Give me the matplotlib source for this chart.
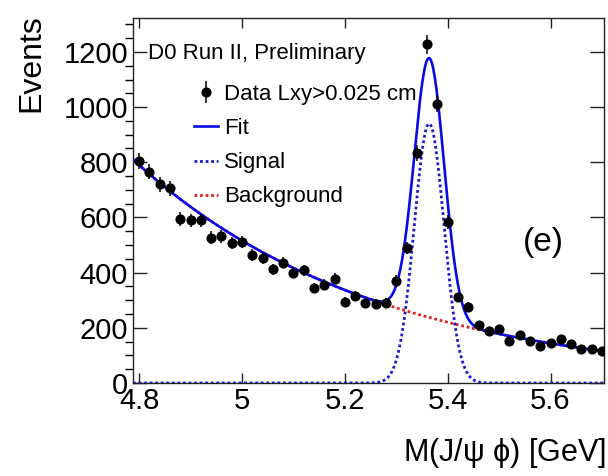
import numpy as np
import matplotlib
matplotlib.use("Agg")
import matplotlib.pyplot as plt

plt.rcParams['font.family'] = ['Liberation Sans', 'DejaVu Sans']

# binned J/psi phi invariant mass, 20 MeV bins
mass = np.round(np.arange(4.80, 5.705, 0.02), 2)
events = [805, 766, 720, 705, 594, 590, 590, 527, 532, 508,
          511, 464, 454, 412, 436, 400, 409, 345, 357, 378,
          295, 315, 289, 288, 291, 371, 490, 834, 1227, 1013,
          584, 310, 276, 209, 189, 194, 152, 174, 152, 134,
          146, 158, 143, 123, 123, 117]

# fit result: gaussian signal over exponential background
sig_amp, sig_mean, sig_sigma = 940.0, 5.364, 0.029
bkg_norm, bkg_slope, bkg_ref = 790.0, 2.13, 4.80

x_lo, x_hi = 4.788, 5.704
y_hi = 1323

events = np.array(events, dtype=float)
xs = np.linspace(x_lo, x_hi, 600)
signal = sig_amp * np.exp(-0.5 * ((xs - sig_mean) / sig_sigma) ** 2)
background = bkg_norm * np.exp(-bkg_slope * (xs - bkg_ref))
fit = signal + background

fig = plt.figure(figsize=(6.08, 4.76), dpi=100)
ax = fig.add_axes([133 / 608, 1 - 383 / 476, 471 / 608, 365 / 476])

bkg_line, = ax.plot(xs, background, color='#e02020', lw=2.0,
                    linestyle=(0, (1, 1)), zorder=2)
sig_line, = ax.plot(xs, signal, color='#1a1acc', lw=2.0,
                    linestyle=(0, (1, 1)), zorder=3)
fit_line, = ax.plot(xs, fit, color='#0a0ae6', lw=1.9, zorder=4)
data = ax.errorbar(mass, events, yerr=np.sqrt(events), fmt='o', color='black',
                   ms=6.3, elinewidth=1.1, capsize=0, zorder=5)

ax.set_xlim(x_lo, x_hi)
ax.set_ylim(0, y_hi)
ax.set_xticks([4.8, 5.0, 5.2, 5.4, 5.6])
ax.set_xticklabels(['4.8', '5', '5.2', '5.4', '5.6'])
ax.set_yticks(np.arange(0, 1201, 200))
ax.set_yticks(np.arange(0, 1301, 50), minor=True)
ax.tick_params(direction='in', top=True, right=True, labelsize=21,
               width=1.0, color='#222222')
ax.tick_params(axis='x', which='major', length=7.5, pad=3)
ax.tick_params(axis='y', which='major', length=10, pad=3.5)
ax.tick_params(axis='y', which='minor', length=5.5, width=1.0)
for s in ax.spines.values():
    s.set_linewidth(1.0)
    s.set_color('#222222')

ax.set_ylabel('Events', fontsize=23, loc='top')
ax.yaxis.set_label_coords(-0.184, 1.01)
ax.set_xlabel(r'M(J/$\mathregular{\psi}$ $\mathregular{\phi}$) [GeV]',
              fontsize=22, loc='right')
ax.xaxis.set_label_coords(1.005, -0.145)

ax.text(0.032, 0.904, 'D0 Run II, Preliminary', transform=ax.transAxes,
        fontsize=16, va='center', ha='left')
ax.text(0.872, 0.384, '(e)', transform=ax.transAxes, fontsize=24,
        va='center', ha='center')

ax.legend([data, fit_line, sig_line, bkg_line],
          ['Data Lxy>0.025 cm', 'Fit', 'Signal', 'Background'],
          loc='upper left', bbox_to_anchor=(0.1295, 0.819), frameon=False,
          fontsize=16, handlelength=1.1, handletextpad=0.25,
          labelspacing=0.59, borderaxespad=0, borderpad=0)

fig.savefig('out.png', dpi=100)
